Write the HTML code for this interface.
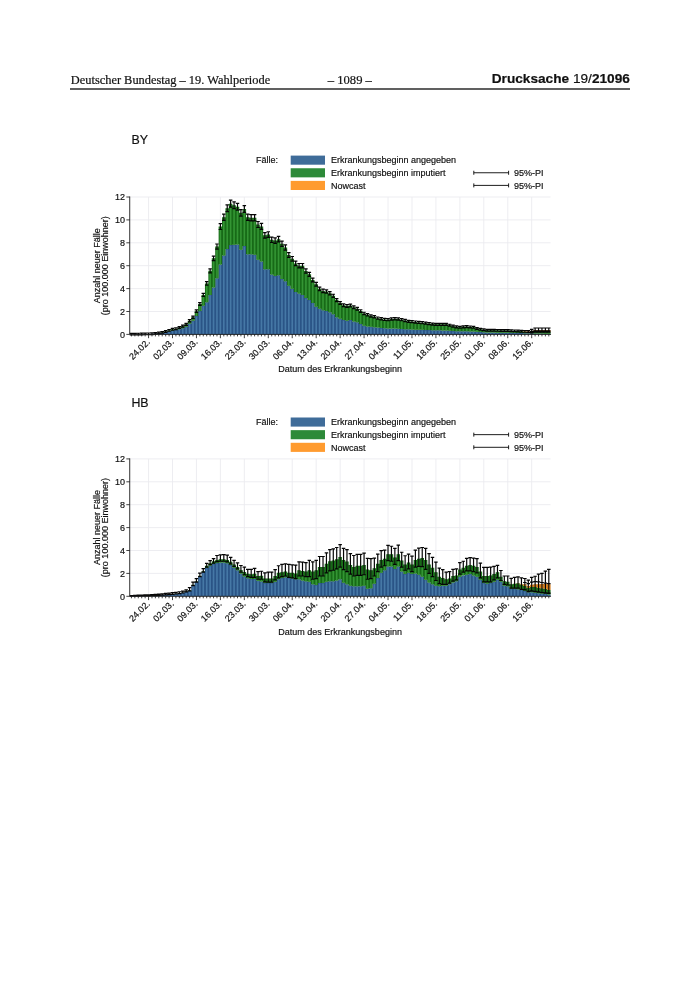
<!DOCTYPE html>
<html lang="de"><head><meta charset="utf-8"><title>Drucksache 19/21096</title>
<style>
html,body{margin:0;padding:0;background:#fff}
body{width:700px;height:990px;position:relative;overflow:hidden}
.hd{position:absolute;top:71.9px;white-space:nowrap;color:#111;line-height:16px;-webkit-text-stroke:0.2px #111}
.l{left:70.8px;font:12.4px/16px "Liberation Serif","Times New Roman",serif}
.c{left:327.8px;font:12.6px/16px "Liberation Serif","Times New Roman",serif}
.r{right:70.2px;font:13.65px/16px "Liberation Sans",Arial,sans-serif;top:71.4px}
.rule{position:absolute;left:70.4px;width:559.6px;top:88.4px;height:1.2px;background:#606060}
</style></head><body>
<div class="hd l">Deutscher Bundestag – 19. Wahlperiode</div>
<div class="hd c">– 1089 –</div>
<div class="hd r"><b>Drucksache</b> 19/<b>21096</b></div>
<div class="rule"></div>
<svg width="700" height="990" viewBox="0 0 700 990" font-family="'Liberation Sans', Arial, sans-serif" style="position:absolute;left:0;top:0"><style>text{fill:#111;stroke:#111;stroke-width:0.18px}</style><g stroke="#ebebef" stroke-width="0.9" fill="none">
<path d="M148.55 197V334.4"/>
<path d="M172.5 197V334.4"/>
<path d="M196.44 197V334.4"/>
<path d="M220.39 197V334.4"/>
<path d="M244.34 197V334.4"/>
<path d="M268.29 197V334.4"/>
<path d="M292.23 197V334.4"/>
<path d="M316.18 197V334.4"/>
<path d="M340.13 197V334.4"/>
<path d="M364.07 197V334.4"/>
<path d="M388.02 197V334.4"/>
<path d="M411.97 197V334.4"/>
<path d="M435.91 197V334.4"/>
<path d="M459.86 197V334.4"/>
<path d="M483.81 197V334.4"/>
<path d="M507.75 197V334.4"/>
<path d="M531.7 197V334.4"/>
<path d="M129.73 311.5H550.52"/>
<path d="M129.73 288.6H550.52"/>
<path d="M129.73 265.7H550.52"/>
<path d="M129.73 242.8H550.52"/>
<path d="M129.73 219.9H550.52"/>
<path d="M129.73 197H550.52"/>
</g>
<path d="M129.68 334.17h3.52v0.23h-3.52zM133.11 334.13h3.52v0.27h-3.52zM136.53 334.08h3.52v0.32h-3.52zM139.95 334.03h3.52v0.37h-3.52zM143.37 333.99h3.52v0.41h-3.52zM146.79 333.94h3.52v0.46h-3.52zM150.21 333.71h3.52v0.69h-3.52zM153.63 333.48h3.52v0.92h-3.52zM157.05 333.25h3.52v1.15h-3.52zM160.47 332.68h3.52v1.72h-3.52zM163.89 332.11h3.52v2.29h-3.52zM167.32 331.37h3.52v3.03h-3.52zM170.74 330.62h3.52v3.78h-3.52zM174.16 330.05h3.52v4.35h-3.52zM177.58 329.25h3.52v5.15h-3.52zM181 328.33h3.52v6.07h-3.52zM184.42 326.84h3.52v7.56h-3.52zM187.84 323.64h3.52v10.76h-3.52zM191.26 320.77h3.52v13.63h-3.52zM194.68 316.08h3.52v18.32h-3.52zM198.1 310.93h3.52v23.47h-3.52zM201.53 305.77h3.52v28.62h-3.52zM204.95 302.34h3.52v32.06h-3.52zM208.37 294.9h3.52v39.5h-3.52zM211.79 287.45h3.52v46.94h-3.52zM215.21 278.29h3.52v56.11h-3.52zM218.63 264.56h3.52v69.84h-3.52zM222.05 255.39h3.52v79h-3.52zM225.47 249.1h3.52v85.3h-3.52zM228.89 245.09h3.52v89.31h-3.52zM232.31 244.86h3.52v89.54h-3.52zM235.74 244.52h3.52v89.88h-3.52zM239.16 249.67h3.52v84.73h-3.52zM242.58 246.01h3.52v88.39h-3.52zM246 254.25h3.52v80.15h-3.52zM249.42 254.25h3.52v80.15h-3.52zM252.84 254.71h3.52v79.69h-3.52zM256.26 259.63h3.52v74.77h-3.52zM259.68 261.46h3.52v72.94h-3.52zM263.1 269.13h3.52v65.27h-3.52zM266.52 269.13h3.52v65.27h-3.52zM269.95 274.4h3.52v60h-3.52zM273.37 276h3.52v58.39h-3.52zM276.79 275.2h3.52v59.2h-3.52zM280.21 278.98h3.52v55.42h-3.52zM283.63 281.27h3.52v53.13h-3.52zM287.05 285.85h3.52v48.55h-3.52zM290.47 288.83h3.52v45.57h-3.52zM293.89 291.92h3.52v42.48h-3.52zM297.31 293.41h3.52v40.99h-3.52zM300.73 294.9h3.52v39.5h-3.52zM304.16 297.99h3.52v36.41h-3.52zM307.58 300.05h3.52v34.35h-3.52zM311 302.91h3.52v31.49h-3.52zM314.42 306.69h3.52v27.71h-3.52zM317.84 308.64h3.52v25.76h-3.52zM321.26 310.13h3.52v24.27h-3.52zM324.68 311.04h3.52v23.36h-3.52zM328.1 312.19h3.52v22.21h-3.52zM331.52 314.36h3.52v20.04h-3.52zM334.94 317.22h3.52v17.17h-3.52zM338.37 318.71h3.52v15.69h-3.52zM341.79 320.09h3.52v14.31h-3.52zM345.21 320.77h3.52v13.63h-3.52zM348.63 320.09h3.52v14.31h-3.52zM352.05 321.58h3.52v12.82h-3.52zM355.47 322.26h3.52v12.14h-3.52zM358.89 323.98h3.52v10.42h-3.52zM362.31 325.81h3.52v8.59h-3.52zM365.73 326.5h3.52v7.9h-3.52zM369.15 326.84h3.52v7.56h-3.52zM372.58 327.3h3.52v7.1h-3.52zM376 327.53h3.52v6.87h-3.52zM379.42 327.99h3.52v6.41h-3.52zM382.84 328.22h3.52v6.18h-3.52zM386.26 328.45h3.52v5.95h-3.52zM389.68 328.45h3.52v5.95h-3.52zM393.1 328.45h3.52v5.95h-3.52zM396.52 328.67h3.52v5.72h-3.52zM399.94 328.9h3.52v5.5h-3.52zM403.36 329.13h3.52v5.27h-3.52zM406.79 329.36h3.52v5.04h-3.52zM410.21 329.59h3.52v4.81h-3.52zM413.63 329.67h3.52v4.73h-3.52zM417.05 329.74h3.52v4.66h-3.52zM420.47 329.82h3.52v4.58h-3.52zM423.89 329.93h3.52v4.47h-3.52zM427.31 330.05h3.52v4.35h-3.52zM430.73 330.16h3.52v4.24h-3.52zM434.15 330.28h3.52v4.12h-3.52zM437.57 330.35h3.52v4.05h-3.52zM441 330.43h3.52v3.97h-3.52zM444.42 330.51h3.52v3.89h-3.52zM447.84 330.74h3.52v3.66h-3.52zM451.26 330.96h3.52v3.43h-3.52zM454.68 331.14h3.52v3.26h-3.52zM458.1 331.31h3.52v3.09h-3.52zM461.52 331.31h3.52v3.09h-3.52zM464.94 331.31h3.52v3.09h-3.52zM468.36 331.42h3.52v2.98h-3.52zM471.78 331.54h3.52v2.86h-3.52zM475.21 331.82h3.52v2.58h-3.52zM478.63 332.11h3.52v2.29h-3.52zM482.05 332.34h3.52v2.06h-3.52zM485.47 332.45h3.52v1.95h-3.52zM488.89 332.57h3.52v1.83h-3.52zM492.31 332.61h3.52v1.79h-3.52zM495.73 332.66h3.52v1.74h-3.52zM499.15 332.71h3.52v1.69h-3.52zM502.57 332.75h3.52v1.65h-3.52zM505.99 332.8h3.52v1.6h-3.52zM509.42 332.85h3.52v1.55h-3.52zM512.84 332.91h3.52v1.49h-3.52zM516.26 332.97h3.52v1.43h-3.52zM519.68 333.03h3.52v1.37h-3.52zM523.1 333.14h3.52v1.26h-3.52zM526.52 333.25h3.52v1.15h-3.52zM529.94 333.25h3.52v1.15h-3.52zM533.36 333.48h3.52v0.92h-3.52zM536.78 333.54h3.52v0.86h-3.52zM540.2 333.6h3.52v0.8h-3.52zM543.63 333.66h3.52v0.74h-3.52zM547.05 333.71h3.52v0.69h-3.52z" fill="#2a5486"/>
<path d="M154.58 333.93h1.62v0.47h-1.62zM158 333.7h1.62v0.7h-1.62zM161.42 333.13h1.62v1.27h-1.62zM164.84 332.56h1.62v1.84h-1.62zM168.27 331.82h1.62v2.58h-1.62zM171.69 331.07h1.62v3.33h-1.62zM175.11 330.5h1.62v3.9h-1.62zM178.53 329.7h1.62v4.7h-1.62zM181.95 328.78h1.62v5.62h-1.62zM185.37 327.29h1.62v7.11h-1.62zM188.79 324.09h1.62v10.31h-1.62zM192.21 321.22h1.62v13.18h-1.62zM195.63 316.53h1.62v17.87h-1.62zM199.05 311.38h1.62v23.02h-1.62zM202.48 306.22h1.62v28.18h-1.62zM205.9 302.79h1.62v31.61h-1.62zM209.32 295.35h1.62v39.05h-1.62zM212.74 287.9h1.62v46.49h-1.62zM216.16 278.74h1.62v55.66h-1.62zM219.58 265h1.62v69.39h-1.62zM223 255.84h1.62v78.55h-1.62zM226.42 249.55h1.62v84.85h-1.62zM229.84 245.54h1.62v88.86h-1.62zM233.26 245.31h1.62v89.09h-1.62zM236.69 244.97h1.62v89.43h-1.62zM240.11 250.12h1.62v84.28h-1.62zM243.53 246.46h1.62v87.94h-1.62zM246.95 254.7h1.62v79.7h-1.62zM250.37 254.7h1.62v79.7h-1.62zM253.79 255.16h1.62v79.24h-1.62zM257.21 260.08h1.62v74.32h-1.62zM260.63 261.91h1.62v72.49h-1.62zM264.05 269.58h1.62v64.81h-1.62zM267.47 269.58h1.62v64.81h-1.62zM270.9 274.85h1.62v59.55h-1.62zM274.32 276.45h1.62v57.94h-1.62zM277.74 275.65h1.62v58.75h-1.62zM281.16 279.43h1.62v54.97h-1.62zM284.58 281.72h1.62v52.68h-1.62zM288 286.3h1.62v48.1h-1.62zM291.42 289.28h1.62v45.12h-1.62zM294.84 292.37h1.62v42.03h-1.62zM298.26 293.86h1.62v40.54h-1.62zM301.68 295.35h1.62v39.05h-1.62zM305.11 298.44h1.62v35.96h-1.62zM308.53 300.5h1.62v33.9h-1.62zM311.95 303.36h1.62v31.04h-1.62zM315.37 307.14h1.62v27.26h-1.62zM318.79 309.09h1.62v25.31h-1.62zM322.21 310.58h1.62v23.82h-1.62zM325.63 311.49h1.62v22.91h-1.62zM329.05 312.64h1.62v21.76h-1.62zM332.47 314.81h1.62v19.59h-1.62zM335.89 317.67h1.62v16.72h-1.62zM339.32 319.16h1.62v15.24h-1.62zM342.74 320.54h1.62v13.86h-1.62zM346.16 321.22h1.62v13.18h-1.62zM349.58 320.54h1.62v13.86h-1.62zM353 322.03h1.62v12.37h-1.62zM356.42 322.71h1.62v11.69h-1.62zM359.84 324.43h1.62v9.97h-1.62zM363.26 326.26h1.62v8.14h-1.62zM366.68 326.95h1.62v7.45h-1.62zM370.1 327.29h1.62v7.11h-1.62zM373.53 327.75h1.62v6.65h-1.62zM376.95 327.98h1.62v6.42h-1.62zM380.37 328.44h1.62v5.96h-1.62zM383.79 328.67h1.62v5.73h-1.62zM387.21 328.9h1.62v5.5h-1.62zM390.63 328.9h1.62v5.5h-1.62zM394.05 328.9h1.62v5.5h-1.62zM397.47 329.12h1.62v5.27h-1.62zM400.89 329.35h1.62v5.05h-1.62zM404.31 329.58h1.62v4.82h-1.62zM407.74 329.81h1.62v4.59h-1.62zM411.16 330.04h1.62v4.36h-1.62zM414.58 330.12h1.62v4.28h-1.62zM418 330.19h1.62v4.21h-1.62zM421.42 330.27h1.62v4.13h-1.62zM424.84 330.38h1.62v4.02h-1.62zM428.26 330.5h1.62v3.9h-1.62zM431.68 330.61h1.62v3.79h-1.62zM435.1 330.73h1.62v3.67h-1.62zM438.52 330.8h1.62v3.6h-1.62zM441.95 330.88h1.62v3.52h-1.62zM445.37 330.96h1.62v3.44h-1.62zM448.79 331.19h1.62v3.21h-1.62zM452.21 331.41h1.62v2.98h-1.62zM455.63 331.59h1.62v2.81h-1.62zM459.05 331.76h1.62v2.64h-1.62zM462.47 331.76h1.62v2.64h-1.62zM465.89 331.76h1.62v2.64h-1.62zM469.31 331.87h1.62v2.53h-1.62zM472.73 331.99h1.62v2.41h-1.62zM476.16 332.27h1.62v2.13h-1.62zM479.58 332.56h1.62v1.84h-1.62zM483 332.79h1.62v1.61h-1.62zM486.42 332.9h1.62v1.5h-1.62zM489.84 333.02h1.62v1.38h-1.62zM493.26 333.06h1.62v1.34h-1.62zM496.68 333.11h1.62v1.29h-1.62zM500.1 333.16h1.62v1.24h-1.62zM503.52 333.2h1.62v1.2h-1.62zM506.94 333.25h1.62v1.15h-1.62zM510.37 333.3h1.62v1.1h-1.62zM513.79 333.36h1.62v1.04h-1.62zM517.21 333.42h1.62v0.98h-1.62zM520.63 333.48h1.62v0.92h-1.62zM524.05 333.59h1.62v0.81h-1.62zM527.47 333.7h1.62v0.7h-1.62zM530.89 333.7h1.62v0.7h-1.62zM534.31 333.93h1.62v0.47h-1.62z" fill="#4678a6"/>
<path d="M157.05 333.03h3.52v0.23h-3.52zM160.47 332.34h3.52v0.34h-3.52zM163.89 331.42h3.52v0.69h-3.52zM167.32 330.39h3.52v0.97h-3.52zM170.74 329.36h3.52v1.26h-3.52zM174.16 328.67h3.52v1.37h-3.52zM177.58 327.53h3.52v1.72h-3.52zM181 326.16h3.52v2.18h-3.52zM184.42 324.32h3.52v2.52h-3.52zM187.84 320.77h3.52v2.86h-3.52zM191.26 317.22h3.52v3.55h-3.52zM194.68 311.16h3.52v4.92h-3.52zM198.1 304.06h3.52v6.87h-3.52zM201.53 294.9h3.52v10.88h-3.52zM204.95 283.45h3.52v18.89h-3.52zM208.37 270.85h3.52v24.04h-3.52zM211.79 258.37h3.52v29.08h-3.52zM215.21 246.58h3.52v31.72h-3.52zM218.63 226.54h3.52v38.01h-3.52zM222.05 217.27h3.52v38.13h-3.52zM225.47 208.22h3.52v40.88h-3.52zM228.89 203.64h3.52v41.45h-3.52zM232.31 205.24h3.52v39.62h-3.52zM235.74 206.73h3.52v37.79h-3.52zM239.16 212.8h3.52v36.87h-3.52zM242.58 209.02h3.52v36.98h-3.52zM246 217.27h3.52v36.98h-3.52zM249.42 217.84h3.52v36.41h-3.52zM252.84 217.84h3.52v36.87h-3.52zM256.26 224.48h3.52v35.15h-3.52zM259.68 226.43h3.52v35.04h-3.52zM263.1 235.36h3.52v33.78h-3.52zM266.52 234.56h3.52v34.58h-3.52zM269.95 239.82h3.52v34.58h-3.52zM273.37 240.62h3.52v35.38h-3.52zM276.79 239.14h3.52v36.07h-3.52zM280.21 243.72h3.52v35.27h-3.52zM283.63 247.49h3.52v33.78h-3.52zM287.05 255.05h3.52v30.8h-3.52zM290.47 258.83h3.52v30h-3.52zM293.89 263.41h3.52v28.51h-3.52zM297.31 265.7h3.52v27.71h-3.52zM300.73 265.7h3.52v29.2h-3.52zM304.16 270.97h3.52v27.02h-3.52zM307.58 274.29h3.52v25.76h-3.52zM311 280.01h3.52v22.9h-3.52zM314.42 284.25h3.52v22.44h-3.52zM317.84 288.83h3.52v19.81h-3.52zM321.26 290.89h3.52v19.24h-3.52zM324.68 291.46h3.52v19.58h-3.52zM328.1 293.18h3.52v19.01h-3.52zM331.52 295.81h3.52v18.55h-3.52zM334.94 300.05h3.52v17.17h-3.52zM338.37 303.03h3.52v15.69h-3.52zM341.79 305.2h3.52v14.88h-3.52zM345.21 306h3.52v14.77h-3.52zM348.63 305.43h3.52v14.66h-3.52zM352.05 307.26h3.52v14.31h-3.52zM355.47 308.75h3.52v13.51h-3.52zM358.89 311.04h3.52v12.94h-3.52zM362.31 313.45h3.52v12.37h-3.52zM365.73 314.82h3.52v11.68h-3.52zM369.15 315.97h3.52v10.88h-3.52zM372.58 316.77h3.52v10.53h-3.52zM376 318.14h3.52v9.39h-3.52zM379.42 318.71h3.52v9.27h-3.52zM382.84 319.4h3.52v8.82h-3.52zM386.26 319.63h3.52v8.82h-3.52zM389.68 319.06h3.52v9.39h-3.52zM393.1 318.71h3.52v9.73h-3.52zM396.52 319.06h3.52v9.62h-3.52zM399.94 319.63h3.52v9.27h-3.52zM403.36 320.55h3.52v8.59h-3.52zM406.79 321.35h3.52v8.01h-3.52zM410.21 321.58h3.52v8.02h-3.52zM413.63 322.03h3.52v7.63h-3.52zM417.05 322.38h3.52v7.37h-3.52zM420.47 322.72h3.52v7.1h-3.52zM423.89 323.18h3.52v6.76h-3.52zM427.31 323.52h3.52v6.53h-3.52zM430.73 324.09h3.52v6.07h-3.52zM434.15 324.32h3.52v5.95h-3.52zM437.57 324.32h3.52v6.03h-3.52zM441 324.32h3.52v6.11h-3.52zM444.42 324.32h3.52v6.18h-3.52zM447.84 325.24h3.52v5.5h-3.52zM451.26 326.16h3.52v4.81h-3.52zM454.68 326.84h3.52v4.29h-3.52zM458.1 327.3h3.52v4.01h-3.52zM461.52 326.84h3.52v4.47h-3.52zM464.94 326.61h3.52v4.69h-3.52zM468.36 326.96h3.52v4.47h-3.52zM471.78 327.3h3.52v4.24h-3.52zM475.21 328.45h3.52v3.38h-3.52zM478.63 329.36h3.52v2.75h-3.52zM482.05 329.82h3.52v2.52h-3.52zM485.47 330.16h3.52v2.29h-3.52zM488.89 330.28h3.52v2.29h-3.52zM492.31 330.32h3.52v2.29h-3.52zM495.73 330.37h3.52v2.29h-3.52zM499.15 330.42h3.52v2.29h-3.52zM502.57 330.46h3.52v2.29h-3.52zM505.99 330.51h3.52v2.29h-3.52zM509.42 330.68h3.52v2.18h-3.52zM512.84 330.85h3.52v2.06h-3.52zM516.26 331.02h3.52v1.95h-3.52zM519.68 331.19h3.52v1.83h-3.52zM523.1 331.71h3.52v1.43h-3.52zM526.52 332.22h3.52v1.03h-3.52zM529.94 332h3.52v1.26h-3.52zM533.36 331.65h3.52v1.83h-3.52zM536.78 331.65h3.52v1.89h-3.52zM540.2 331.65h3.52v1.95h-3.52zM543.63 331.65h3.52v2h-3.52zM547.05 331.65h3.52v2.06h-3.52z" fill="#176a17"/>
<path d="M168.27 330.84h1.62v0.52h-1.62zM171.69 329.81h1.62v0.81h-1.62zM175.11 329.12h1.62v0.92h-1.62zM178.53 327.98h1.62v1.27h-1.62zM181.95 326.61h1.62v1.73h-1.62zM185.37 324.77h1.62v2.07h-1.62zM188.79 321.22h1.62v2.41h-1.62zM192.21 317.67h1.62v3.1h-1.62zM195.63 311.61h1.62v4.47h-1.62zM199.05 304.51h1.62v6.42h-1.62zM202.48 295.35h1.62v10.43h-1.62zM205.9 283.9h1.62v18.44h-1.62zM209.32 271.3h1.62v23.59h-1.62zM212.74 258.82h1.62v28.63h-1.62zM216.16 247.03h1.62v31.27h-1.62zM219.58 226.99h1.62v37.56h-1.62zM223 217.72h1.62v37.68h-1.62zM226.42 208.67h1.62v40.43h-1.62zM229.84 204.09h1.62v41h-1.62zM233.26 205.69h1.62v39.17h-1.62zM236.69 207.18h1.62v37.34h-1.62zM240.11 213.25h1.62v36.42h-1.62zM243.53 209.47h1.62v36.53h-1.62zM246.95 217.72h1.62v36.53h-1.62zM250.37 218.29h1.62v35.96h-1.62zM253.79 218.29h1.62v36.42h-1.62zM257.21 224.93h1.62v34.7h-1.62zM260.63 226.88h1.62v34.59h-1.62zM264.05 235.81h1.62v33.33h-1.62zM267.47 235.01h1.62v34.13h-1.62zM270.9 240.27h1.62v34.13h-1.62zM274.32 241.07h1.62v34.93h-1.62zM277.74 239.59h1.62v35.62h-1.62zM281.16 244.17h1.62v34.82h-1.62zM284.58 247.94h1.62v33.33h-1.62zM288 255.5h1.62v30.35h-1.62zM291.42 259.28h1.62v29.55h-1.62zM294.84 263.86h1.62v28.06h-1.62zM298.26 266.15h1.62v27.26h-1.62zM301.68 266.15h1.62v28.75h-1.62zM305.11 271.42h1.62v26.57h-1.62zM308.53 274.74h1.62v25.31h-1.62zM311.95 280.46h1.62v22.45h-1.62zM315.37 284.7h1.62v21.99h-1.62zM318.79 289.28h1.62v19.36h-1.62zM322.21 291.34h1.62v18.79h-1.62zM325.63 291.91h1.62v19.13h-1.62zM329.05 293.63h1.62v18.56h-1.62zM332.47 296.26h1.62v18.1h-1.62zM335.89 300.5h1.62v16.72h-1.62zM339.32 303.48h1.62v15.24h-1.62zM342.74 305.65h1.62v14.43h-1.62zM346.16 306.45h1.62v14.32h-1.62zM349.58 305.88h1.62v14.21h-1.62zM353 307.71h1.62v13.86h-1.62zM356.42 309.2h1.62v13.06h-1.62zM359.84 311.49h1.62v12.49h-1.62zM363.26 313.9h1.62v11.92h-1.62zM366.68 315.27h1.62v11.23h-1.62zM370.1 316.42h1.62v10.43h-1.62zM373.53 317.22h1.62v10.08h-1.62zM376.95 318.59h1.62v8.94h-1.62zM380.37 319.16h1.62v8.82h-1.62zM383.79 319.85h1.62v8.37h-1.62zM387.21 320.08h1.62v8.37h-1.62zM390.63 319.51h1.62v8.94h-1.62zM394.05 319.16h1.62v9.28h-1.62zM397.47 319.51h1.62v9.17h-1.62zM400.89 320.08h1.62v8.82h-1.62zM404.31 321h1.62v8.14h-1.62zM407.74 321.8h1.62v7.56h-1.62zM411.16 322.03h1.62v7.57h-1.62zM414.58 322.48h1.62v7.18h-1.62zM418 322.83h1.62v6.92h-1.62zM421.42 323.17h1.62v6.65h-1.62zM424.84 323.63h1.62v6.31h-1.62zM428.26 323.97h1.62v6.08h-1.62zM431.68 324.54h1.62v5.62h-1.62zM435.1 324.77h1.62v5.5h-1.62zM438.52 324.77h1.62v5.58h-1.62zM441.95 324.77h1.62v5.66h-1.62zM445.37 324.77h1.62v5.73h-1.62zM448.79 325.69h1.62v5.05h-1.62zM452.21 326.61h1.62v4.36h-1.62zM455.63 327.29h1.62v3.84h-1.62zM459.05 327.75h1.62v3.56h-1.62zM462.47 327.29h1.62v4.02h-1.62zM465.89 327.06h1.62v4.24h-1.62zM469.31 327.41h1.62v4.02h-1.62zM472.73 327.75h1.62v3.79h-1.62zM476.16 328.9h1.62v2.93h-1.62zM479.58 329.81h1.62v2.3h-1.62zM483 330.27h1.62v2.07h-1.62zM486.42 330.61h1.62v1.84h-1.62zM489.84 330.73h1.62v1.84h-1.62zM493.26 330.77h1.62v1.84h-1.62zM496.68 330.82h1.62v1.84h-1.62zM500.1 330.87h1.62v1.84h-1.62zM503.52 330.91h1.62v1.84h-1.62zM506.94 330.96h1.62v1.84h-1.62zM510.37 331.13h1.62v1.73h-1.62zM513.79 331.3h1.62v1.61h-1.62zM517.21 331.47h1.62v1.5h-1.62zM520.63 331.64h1.62v1.38h-1.62zM524.05 332.16h1.62v0.98h-1.62zM527.47 332.67h1.62v0.58h-1.62zM530.89 332.45h1.62v0.81h-1.62zM534.31 332.1h1.62v1.38h-1.62zM537.73 332.1h1.62v1.44h-1.62zM541.15 332.1h1.62v1.5h-1.62zM544.58 332.1h1.62v1.55h-1.62zM548 332.1h1.62v1.61h-1.62z" fill="#349534"/>
<path d="M523.1 331.37h3.52v0.34h-3.52zM526.52 331.54h3.52v0.69h-3.52zM529.94 330.96h3.52v1.03h-3.52zM533.36 330.28h3.52v1.37h-3.52zM536.78 330.28h3.52v1.37h-3.52zM540.2 330.28h3.52v1.37h-3.52zM543.63 330.28h3.52v1.37h-3.52zM547.05 330.28h3.52v1.37h-3.52z" fill="#d27b1e"/>
<path d="M530.89 331.41h1.62v0.58h-1.62zM534.31 330.73h1.62v0.92h-1.62zM537.73 330.73h1.62v0.92h-1.62zM541.15 330.73h1.62v0.92h-1.62zM544.58 330.73h1.62v0.92h-1.62zM548 330.73h1.62v0.92h-1.62z" fill="#ffa436"/>
<path d="M131.45 334.98V333.36M129.7 333.36h3.5M129.7 334.98h3.5M134.87 334.92V333.31M133.12 333.31h3.5M133.12 334.92h3.5M138.29 334.86V333.25M136.54 333.25h3.5M136.54 334.86h3.5M141.71 334.81V333.19M139.96 333.19h3.5M139.96 334.81h3.5M145.13 334.75V333.13M143.38 333.13h3.5M143.38 334.75h3.5M148.55 334.64V333.01M146.8 333.01h3.5M146.8 334.64h3.5M151.97 334.53V332.9M150.22 332.9h3.5M150.22 334.53h3.5M155.39 334.19V332.55M153.64 332.55h3.5M153.64 334.19h3.5M158.81 333.85V332.2M157.06 332.2h3.5M157.06 333.85h3.5M162.23 333.18V331.5M160.48 331.5h3.5M160.48 333.18h3.5M165.66 332.28V330.56M163.91 330.56h3.5M163.91 332.28h3.5M169.08 331.27V329.51M167.33 329.51h3.5M167.33 331.27h3.5M172.5 330.26V328.46M170.75 328.46h3.5M170.75 330.26h3.5M175.92 329.59V327.76M174.17 327.76h3.5M174.17 329.59h3.5M179.34 328.47V326.59M177.59 326.59h3.5M177.59 328.47h3.5M182.76 327.12V325.19M181.01 325.19h3.5M181.01 327.12h3.5M186.18 325.33V323.32M184.43 323.32h3.5M184.43 325.33h3.5M189.6 321.85V319.7M187.85 319.7h3.5M187.85 321.85h3.5M193.02 318.37V316.08M191.27 316.08h3.5M191.27 318.37h3.5M196.44 312.42V309.89M194.69 309.89h3.5M194.69 312.42h3.5M199.87 305.47V302.65M198.12 302.65h3.5M198.12 305.47h3.5M203.29 296.49V293.31M201.54 293.31h3.5M201.54 296.49h3.5M206.71 285.27V281.63M204.96 281.63h3.5M204.96 285.27h3.5M210.13 272.92V268.78M208.38 268.78h3.5M208.38 272.92h3.5M213.55 260.69V256.05M211.8 256.05h3.5M211.8 260.69h3.5M216.97 249.14V244.02M215.22 244.02h3.5M215.22 249.14h3.5M220.39 229.5V223.58M218.64 223.58h3.5M218.64 229.5h3.5M223.81 220.41V214.12M222.06 214.12h3.5M222.06 220.41h3.5M227.23 211.55V204.9M225.48 204.9h3.5M225.48 211.55h3.5M230.65 207.06V200.22M228.9 200.22h3.5M228.9 207.06h3.5M234.07 208.63V201.86M232.32 201.86h3.5M232.32 208.63h3.5M237.5 210.09V203.38M235.75 203.38h3.5M235.75 210.09h3.5M240.92 216.03V209.57M239.17 209.57h3.5M239.17 216.03h3.5M244.34 212.33V205.71M242.59 205.71h3.5M242.59 212.33h3.5M247.76 220.41V214.12M246.01 214.12h3.5M246.01 220.41h3.5M251.18 220.97V214.71M249.43 214.71h3.5M249.43 220.97h3.5M254.6 220.97V214.71M252.85 214.71h3.5M252.85 220.97h3.5M258.02 227.48V221.48M256.27 221.48h3.5M256.27 227.48h3.5M261.44 229.39V223.47M259.69 223.47h3.5M259.69 229.39h3.5M264.86 238.14V232.58M263.11 232.58h3.5M263.11 238.14h3.5M268.29 237.35V231.76M266.54 231.76h3.5M266.54 237.35h3.5M271.71 242.52V237.13M269.96 237.13h3.5M269.96 242.52h3.5M275.13 243.3V237.95M273.38 237.95h3.5M273.38 243.3h3.5M278.55 241.84V236.43M276.8 236.43h3.5M276.8 241.84h3.5M281.97 246.33V241.1M280.22 241.1h3.5M280.22 246.33h3.5M285.39 250.03V244.95M283.64 244.95h3.5M283.64 250.03h3.5M288.81 257.44V252.66M287.06 252.66h3.5M287.06 257.44h3.5M292.23 261.14V256.52M290.48 256.52h3.5M290.48 261.14h3.5M295.65 265.63V261.19M293.9 261.19h3.5M293.9 265.63h3.5M299.07 267.88V263.52M297.32 263.52h3.5M297.32 267.88h3.5M302.5 267.88V263.52M300.75 263.52h3.5M300.75 267.88h3.5M305.92 273.04V268.9M304.17 268.9h3.5M304.17 273.04h3.5M309.34 276.29V272.28M307.59 272.28h3.5M307.59 276.29h3.5M312.76 281.9V278.12M311.01 278.12h3.5M311.01 281.9h3.5M316.18 286.05V282.44M314.43 282.44h3.5M314.43 286.05h3.5M319.6 290.54V287.12M317.85 287.12h3.5M317.85 290.54h3.5M323.02 292.56V289.22M321.27 289.22h3.5M321.27 292.56h3.5M326.44 293.12V289.8M324.69 289.8h3.5M324.69 293.12h3.5M329.86 294.81V291.55M328.11 291.55h3.5M328.11 294.81h3.5M333.28 297.39V294.24M331.53 294.24h3.5M331.53 297.39h3.5M336.71 301.54V298.56M334.96 298.56h3.5M334.96 301.54h3.5M340.13 304.46V301.6M338.38 301.6h3.5M338.38 304.46h3.5M343.55 306.59V303.82M341.8 303.82h3.5M341.8 306.59h3.5M346.97 307.37V304.63M345.22 304.63h3.5M345.22 307.37h3.5M350.39 306.81V304.05M348.64 304.05h3.5M348.64 306.81h3.5M353.81 308.61V305.92M352.06 305.92h3.5M352.06 308.61h3.5M357.23 310.07V307.44M355.48 307.44h3.5M355.48 310.07h3.5M360.65 312.31V309.77M358.9 309.77h3.5M358.9 312.31h3.5M364.07 314.67V312.23M362.32 312.23h3.5M362.32 314.67h3.5M367.49 316.01V313.63M365.74 313.63h3.5M365.74 316.01h3.5M370.91 317.14V314.8M369.16 314.8h3.5M369.16 317.14h3.5M374.34 317.92V315.61M372.59 315.61h3.5M372.59 317.92h3.5M377.76 319.27V317.01M376.01 317.01h3.5M376.01 319.27h3.5M381.18 319.83V317.6M379.43 317.6h3.5M379.43 319.83h3.5M384.6 320.5V318.3M382.85 318.3h3.5M382.85 320.5h3.5M388.02 320.73V318.53M386.27 318.53h3.5M386.27 320.73h3.5M391.44 320.17V317.95M389.69 317.95h3.5M389.69 320.17h3.5M394.86 319.83V317.6M393.11 317.6h3.5M393.11 319.83h3.5M398.28 320.17V317.95M396.53 317.95h3.5M396.53 320.17h3.5M401.7 320.73V318.53M399.95 318.53h3.5M399.95 320.73h3.5M405.12 321.62V319.47M403.38 319.47h3.5M403.38 321.62h3.5M408.55 322.41V320.28M406.8 320.28h3.5M406.8 322.41h3.5M411.97 322.63V320.52M410.22 320.52h3.5M410.22 322.63h3.5M415.39 323.08V320.99M413.64 320.99h3.5M413.64 323.08h3.5M418.81 323.42V321.34M417.06 321.34h3.5M417.06 323.42h3.5M422.23 323.76V321.69M420.48 321.69h3.5M420.48 323.76h3.5M425.65 324.2V322.15M423.9 322.15h3.5M423.9 324.2h3.5M429.07 324.54V322.5M427.32 322.5h3.5M427.32 324.54h3.5M432.49 325.1V323.09M430.74 323.09h3.5M430.74 325.1h3.5M435.91 325.33V323.32M434.16 323.32h3.5M434.16 325.33h3.5M439.33 325.33V323.32M437.58 323.32h3.5M437.58 325.33h3.5M442.76 325.33V323.32M441.01 323.32h3.5M441.01 325.33h3.5M446.18 325.33V323.32M444.43 323.32h3.5M444.43 325.33h3.5M449.6 326.22V324.26M447.85 324.26h3.5M447.85 326.22h3.5M453.02 327.12V325.19M451.27 325.19h3.5M451.27 327.12h3.5M456.44 327.8V325.89M454.69 325.89h3.5M454.69 327.8h3.5M459.86 328.24V326.36M458.11 326.36h3.5M458.11 328.24h3.5M463.28 327.8V325.89M461.53 325.89h3.5M461.53 327.8h3.5M466.7 327.57V325.66M464.95 325.66h3.5M464.95 327.57h3.5M470.12 327.91V326.01M468.37 326.01h3.5M468.37 327.91h3.5M473.55 328.24V326.36M471.8 326.36h3.5M471.8 328.24h3.5M476.97 329.37V327.53M475.22 327.53h3.5M475.22 329.37h3.5M480.39 330.26V328.46M478.64 328.46h3.5M478.64 330.26h3.5M483.81 330.71V328.93M482.06 328.93h3.5M482.06 330.71h3.5M487.23 331.05V329.28M485.48 329.28h3.5M485.48 331.05h3.5M490.65 331.16V329.39M488.9 329.39h3.5M488.9 331.16h3.5M494.07 331.21V329.44M492.32 329.44h3.5M492.32 331.21h3.5M497.49 331.25V329.49M495.74 329.49h3.5M495.74 331.25h3.5M500.91 331.3V329.53M499.16 329.53h3.5M499.16 331.3h3.5M504.33 331.34V329.58M502.58 329.58h3.5M502.58 331.34h3.5M507.75 331.39V329.63M506 329.63h3.5M506 331.39h3.5M511.18 331.55V329.8M509.43 329.8h3.5M509.43 331.55h3.5M514.6 331.72V329.98M512.85 329.98h3.5M512.85 331.72h3.5M518.02 331.89V330.15M516.27 330.15h3.5M516.27 331.89h3.5M521.44 332.06V330.33M519.69 330.33h3.5M519.69 332.06h3.5M524.86 332.23V330.5M523.11 330.5h3.5M523.11 332.23h3.5M528.28 332.4V330.68M526.53 330.68h3.5M526.53 332.4h3.5M531.7 331.54V329.36M529.95 329.36h3.5M529.95 331.54h3.5M535.12 330.85V327.99M533.37 327.99h3.5M533.37 330.85h3.5M538.54 330.85V327.99M536.79 327.99h3.5M536.79 330.85h3.5M541.96 330.85V327.99M540.21 327.99h3.5M540.21 330.85h3.5M545.39 330.85V327.99M543.64 327.99h3.5M543.64 330.85h3.5M548.81 330.85V327.99M547.06 327.99h3.5M547.06 330.85h3.5M531.7 332.8V331.42M529.95 331.42h3.5M529.95 332.8h3.5M535.12 332.11V330.74M533.37 330.74h3.5M533.37 332.11h3.5M538.54 332.11V330.74M536.79 330.74h3.5M536.79 332.11h3.5M541.96 332.11V330.74M540.21 330.74h3.5M540.21 332.11h3.5M545.39 332.11V330.74M543.64 330.74h3.5M543.64 332.11h3.5M548.81 332.11V330.74M547.06 330.74h3.5M547.06 332.11h3.5" stroke="#050505" stroke-width="1.2" fill="none"/>
<path d="M129.73 196.5V334.4H551.02" stroke="#262626" stroke-width="0.95" fill="none"/>
<path d="M129.73 334.4h-3.4M129.73 311.5h-3.4M129.73 288.6h-3.4M129.73 265.7h-3.4M129.73 242.8h-3.4M129.73 219.9h-3.4M129.73 197h-3.4M131.45 334.4v2.0M134.87 334.4v2.0M138.29 334.4v2.0M141.71 334.4v2.0M145.13 334.4v2.0M148.55 334.4v3.8M151.97 334.4v2.0M155.39 334.4v2.0M158.81 334.4v2.0M162.23 334.4v2.0M165.66 334.4v2.0M169.08 334.4v2.0M172.5 334.4v3.8M175.92 334.4v2.0M179.34 334.4v2.0M182.76 334.4v2.0M186.18 334.4v2.0M189.6 334.4v2.0M193.02 334.4v2.0M196.44 334.4v3.8M199.87 334.4v2.0M203.29 334.4v2.0M206.71 334.4v2.0M210.13 334.4v2.0M213.55 334.4v2.0M216.97 334.4v2.0M220.39 334.4v3.8M223.81 334.4v2.0M227.23 334.4v2.0M230.65 334.4v2.0M234.07 334.4v2.0M237.5 334.4v2.0M240.92 334.4v2.0M244.34 334.4v3.8M247.76 334.4v2.0M251.18 334.4v2.0M254.6 334.4v2.0M258.02 334.4v2.0M261.44 334.4v2.0M264.86 334.4v2.0M268.29 334.4v3.8M271.71 334.4v2.0M275.13 334.4v2.0M278.55 334.4v2.0M281.97 334.4v2.0M285.39 334.4v2.0M288.81 334.4v2.0M292.23 334.4v3.8M295.65 334.4v2.0M299.07 334.4v2.0M302.5 334.4v2.0M305.92 334.4v2.0M309.34 334.4v2.0M312.76 334.4v2.0M316.18 334.4v3.8M319.6 334.4v2.0M323.02 334.4v2.0M326.44 334.4v2.0M329.86 334.4v2.0M333.28 334.4v2.0M336.71 334.4v2.0M340.13 334.4v3.8M343.55 334.4v2.0M346.97 334.4v2.0M350.39 334.4v2.0M353.81 334.4v2.0M357.23 334.4v2.0M360.65 334.4v2.0M364.07 334.4v3.8M367.49 334.4v2.0M370.91 334.4v2.0M374.34 334.4v2.0M377.76 334.4v2.0M381.18 334.4v2.0M384.6 334.4v2.0M388.02 334.4v3.8M391.44 334.4v2.0M394.86 334.4v2.0M398.28 334.4v2.0M401.7 334.4v2.0M405.12 334.4v2.0M408.55 334.4v2.0M411.97 334.4v3.8M415.39 334.4v2.0M418.81 334.4v2.0M422.23 334.4v2.0M425.65 334.4v2.0M429.07 334.4v2.0M432.49 334.4v2.0M435.91 334.4v3.8M439.33 334.4v2.0M442.76 334.4v2.0M446.18 334.4v2.0M449.6 334.4v2.0M453.02 334.4v2.0M456.44 334.4v2.0M459.86 334.4v3.8M463.28 334.4v2.0M466.7 334.4v2.0M470.12 334.4v2.0M473.55 334.4v2.0M476.97 334.4v2.0M480.39 334.4v2.0M483.81 334.4v3.8M487.23 334.4v2.0M490.65 334.4v2.0M494.07 334.4v2.0M497.49 334.4v2.0M500.91 334.4v2.0M504.33 334.4v2.0M507.75 334.4v3.8M511.18 334.4v2.0M514.6 334.4v2.0M518.02 334.4v2.0M521.44 334.4v2.0M524.86 334.4v2.0M528.28 334.4v2.0M531.7 334.4v3.8M535.12 334.4v2.0M538.54 334.4v2.0M541.96 334.4v2.0M545.39 334.4v2.0M548.81 334.4v2.0" stroke="#111" stroke-width="0.8" fill="none"/>
<g font-size="9" text-anchor="end">
<text x="125.13" y="337.6">0</text>
<text x="125.13" y="314.7">2</text>
<text x="125.13" y="291.8">4</text>
<text x="125.13" y="268.9">6</text>
<text x="125.13" y="246">8</text>
<text x="125.13" y="223.1">10</text>
<text x="125.13" y="200.2">12</text>
</g>
<g font-size="9" text-anchor="end">
<text transform="translate(150.45 342.6) rotate(-45)">24.02.</text>
<text transform="translate(174.4 342.6) rotate(-45)">02.03.</text>
<text transform="translate(198.34 342.6) rotate(-45)">09.03.</text>
<text transform="translate(222.29 342.6) rotate(-45)">16.03.</text>
<text transform="translate(246.24 342.6) rotate(-45)">23.03.</text>
<text transform="translate(270.19 342.6) rotate(-45)">30.03.</text>
<text transform="translate(294.13 342.6) rotate(-45)">06.04.</text>
<text transform="translate(318.08 342.6) rotate(-45)">13.04.</text>
<text transform="translate(342.03 342.6) rotate(-45)">20.04.</text>
<text transform="translate(365.97 342.6) rotate(-45)">27.04.</text>
<text transform="translate(389.92 342.6) rotate(-45)">04.05.</text>
<text transform="translate(413.87 342.6) rotate(-45)">11.05.</text>
<text transform="translate(437.81 342.6) rotate(-45)">18.05.</text>
<text transform="translate(461.76 342.6) rotate(-45)">25.05.</text>
<text transform="translate(485.71 342.6) rotate(-45)">01.06.</text>
<text transform="translate(509.65 342.6) rotate(-45)">08.06.</text>
<text transform="translate(533.6 342.6) rotate(-45)">15.06.</text>
</g>
<text x="340.13" y="372.3" font-size="9" text-anchor="middle">Datum des Erkrankungsbeginn</text>
<text transform="translate(99.7 265.7) rotate(-90)" font-size="9" text-anchor="middle">Anzahl neuer Fälle</text>
<text transform="translate(107.8 265.7) rotate(-90)" font-size="9" text-anchor="middle">(pro 100.000 Einwohner)</text>
<text x="131.4" y="144.2" font-size="12.4" fill="#111">BY</text>
<text x="256" y="163.2" font-size="9">Fälle:</text>
<rect x="290.7" y="155.6" width="34.3" height="9.1" fill="#3f6c99"/>
<text x="331" y="163.3" font-size="9">Erkrankungsbeginn angegeben</text>
<rect x="290.7" y="168.25" width="34.3" height="9.1" fill="#2d8a39"/>
<text x="331" y="175.95" font-size="9">Erkrankungsbeginn imputiert</text>
<path d="M473.8 172.75H508.6M473.8 170.75v4M508.6 170.75v4" stroke="#111" stroke-width="0.95" fill="none"/>
<text x="514" y="175.95" font-size="9">95%-PI</text>
<rect x="290.7" y="180.9" width="34.3" height="9.1" fill="#ff9b2f"/>
<text x="331" y="188.6" font-size="9">Nowcast</text>
<path d="M473.8 185.4H508.6M473.8 183.4v4M508.6 183.4v4" stroke="#111" stroke-width="0.95" fill="none"/>
<text x="514" y="188.6" font-size="9">95%-PI</text><g stroke="#ebebef" stroke-width="0.9" fill="none">
<path d="M148.55 458.9V596.3"/>
<path d="M172.5 458.9V596.3"/>
<path d="M196.44 458.9V596.3"/>
<path d="M220.39 458.9V596.3"/>
<path d="M244.34 458.9V596.3"/>
<path d="M268.29 458.9V596.3"/>
<path d="M292.23 458.9V596.3"/>
<path d="M316.18 458.9V596.3"/>
<path d="M340.13 458.9V596.3"/>
<path d="M364.07 458.9V596.3"/>
<path d="M388.02 458.9V596.3"/>
<path d="M411.97 458.9V596.3"/>
<path d="M435.91 458.9V596.3"/>
<path d="M459.86 458.9V596.3"/>
<path d="M483.81 458.9V596.3"/>
<path d="M507.75 458.9V596.3"/>
<path d="M531.7 458.9V596.3"/>
<path d="M129.73 573.4H550.52"/>
<path d="M129.73 550.5H550.52"/>
<path d="M129.73 527.6H550.52"/>
<path d="M129.73 504.7H550.52"/>
<path d="M129.73 481.8H550.52"/>
<path d="M129.73 458.9H550.52"/>
</g>
<path d="M129.68 595.98h3.52v0.32h-3.52zM133.11 595.93h3.52v0.37h-3.52zM136.53 595.88h3.52v0.42h-3.52zM139.95 595.81h3.52v0.49h-3.52zM143.37 595.74h3.52v0.56h-3.52zM146.79 595.67h3.52v0.63h-3.52zM150.21 595.53h3.52v0.77h-3.52zM153.63 595.39h3.52v0.91h-3.52zM157.05 595.25h3.52v1.05h-3.52zM160.47 595.04h3.52v1.26h-3.52zM163.89 594.83h3.52v1.47h-3.52zM167.32 594.56h3.52v1.74h-3.52zM170.74 594.3h3.52v2h-3.52zM174.16 593.98h3.52v2.32h-3.52zM177.58 593.56h3.52v2.74h-3.52zM181 593.03h3.52v3.27h-3.52zM184.42 591.98h3.52v4.32h-3.52zM187.84 591.03h3.52v5.27h-3.52zM191.26 585.26h3.52v11.04h-3.52zM194.68 581.79h3.52v14.51h-3.52zM198.1 576.28h3.52v20.02h-3.52zM201.53 571.91h3.52v24.39h-3.52zM204.95 567.94h3.52v28.36h-3.52zM208.37 565.75h3.52v30.55h-3.52zM211.79 563.96h3.52v32.34h-3.52zM215.21 562.93h3.52v33.37h-3.52zM218.63 562.54h3.52v33.76h-3.52zM222.05 562.54h3.52v33.76h-3.52zM225.47 563.19h3.52v33.11h-3.52zM228.89 565.11h3.52v31.19h-3.52zM232.31 567.68h3.52v28.62h-3.52zM235.74 570.25h3.52v26.05h-3.52zM239.16 573.45h3.52v22.85h-3.52zM242.58 576.41h3.52v19.89h-3.52zM246 578.33h3.52v17.97h-3.52zM249.42 578.97h3.52v17.33h-3.52zM252.84 578.97h3.52v17.33h-3.52zM256.26 580.64h3.52v15.66h-3.52zM259.68 581.54h3.52v14.76h-3.52zM263.1 583.08h3.52v13.22h-3.52zM266.52 583.08h3.52v13.22h-3.52zM269.95 583.08h3.52v13.22h-3.52zM273.37 581.79h3.52v14.51h-3.52zM276.79 579.23h3.52v17.07h-3.52zM280.21 577.94h3.52v18.36h-3.52zM283.63 577.3h3.52v19h-3.52zM287.05 577.94h3.52v18.36h-3.52zM290.47 578.59h3.52v17.71h-3.52zM293.89 579.23h3.52v17.07h-3.52zM297.31 579.23h3.52v17.07h-3.52zM300.73 580.51h3.52v15.79h-3.52zM304.16 581.15h3.52v15.15h-3.52zM307.58 581.79h3.52v14.51h-3.52zM311 584.36h3.52v11.94h-3.52zM314.42 585h3.52v11.3h-3.52zM317.84 583.08h3.52v13.22h-3.52zM321.26 583.08h3.52v13.22h-3.52zM324.68 581.79h3.52v14.51h-3.52zM328.1 581.15h3.52v15.15h-3.52zM331.52 581.15h3.52v15.15h-3.52zM334.94 580.51h3.52v15.79h-3.52zM338.37 579.23h3.52v17.07h-3.52zM341.79 582.69h3.52v13.61h-3.52zM345.21 584.36h3.52v11.94h-3.52zM348.63 585.65h3.52v10.65h-3.52zM352.05 586.29h3.52v10.01h-3.52zM355.47 586.29h3.52v10.01h-3.52zM358.89 586.29h3.52v10.01h-3.52zM362.31 585.65h3.52v10.65h-3.52zM365.73 588.85h3.52v7.45h-3.52zM369.15 588.21h3.52v8.09h-3.52zM372.58 583.72h3.52v12.58h-3.52zM376 577.94h3.52v18.36h-3.52zM379.42 572.81h3.52v23.49h-3.52zM382.84 570.24h3.52v26.06h-3.52zM386.26 566.39h3.52v29.91h-3.52zM389.68 566.39h3.52v29.91h-3.52zM393.1 568.96h3.52v27.34h-3.52zM396.52 566.39h3.52v29.91h-3.52zM399.94 571.53h3.52v24.77h-3.52zM403.36 574.09h3.52v22.21h-3.52zM406.79 572.81h3.52v23.49h-3.52zM410.21 574.09h3.52v22.21h-3.52zM413.63 573.45h3.52v22.85h-3.52zM417.05 574.73h3.52v21.57h-3.52zM420.47 576.66h3.52v19.64h-3.52zM423.89 579.87h3.52v16.43h-3.52zM427.31 582.44h3.52v13.86h-3.52zM430.73 584.36h3.52v11.94h-3.52zM434.15 585.65h3.52v10.65h-3.52zM437.57 586.29h3.52v10.01h-3.52zM441 585.65h3.52v10.65h-3.52zM444.42 585.65h3.52v10.65h-3.52zM447.84 584.36h3.52v11.94h-3.52zM451.26 582.44h3.52v13.86h-3.52zM454.68 581.15h3.52v15.15h-3.52zM458.1 576.66h3.52v19.64h-3.52zM461.52 575.38h3.52v20.92h-3.52zM464.94 574.73h3.52v21.57h-3.52zM468.36 574.09h3.52v22.21h-3.52zM471.78 575.38h3.52v20.92h-3.52zM475.21 576.66h3.52v19.64h-3.52zM478.63 579.87h3.52v16.43h-3.52zM482.05 583.08h3.52v13.22h-3.52zM485.47 583.72h3.52v12.58h-3.52zM488.89 583.08h3.52v13.22h-3.52zM492.31 581.79h3.52v14.51h-3.52zM495.73 579.87h3.52v16.43h-3.52zM499.15 581.79h3.52v14.51h-3.52zM502.57 585.65h3.52v10.65h-3.52zM505.99 586.29h3.52v10.01h-3.52zM509.42 588.77h3.52v7.53h-3.52zM512.84 588.77h3.52v7.53h-3.52zM516.26 589.34h3.52v6.96h-3.52zM519.68 589.91h3.52v6.39h-3.52zM523.1 591.05h3.52v5.25h-3.52zM526.52 592.19h3.52v4.11h-3.52zM529.94 592.19h3.52v4.11h-3.52zM533.36 592.76h3.52v3.54h-3.52zM536.78 593.33h3.52v2.97h-3.52zM540.2 593.56h3.52v2.74h-3.52zM543.63 593.91h3.52v2.39h-3.52zM547.05 594.48h3.52v1.82h-3.52z" fill="#2a5486"/>
<path d="M154.58 595.84h1.62v0.46h-1.62zM158 595.7h1.62v0.6h-1.62zM161.42 595.49h1.62v0.81h-1.62zM164.84 595.28h1.62v1.02h-1.62zM168.27 595.01h1.62v1.29h-1.62zM171.69 594.75h1.62v1.55h-1.62zM175.11 594.43h1.62v1.87h-1.62zM178.53 594.01h1.62v2.29h-1.62zM181.95 593.48h1.62v2.82h-1.62zM185.37 592.43h1.62v3.87h-1.62zM188.79 591.48h1.62v4.82h-1.62zM192.21 585.71h1.62v10.59h-1.62zM195.63 582.24h1.62v14.06h-1.62zM199.05 576.73h1.62v19.57h-1.62zM202.48 572.36h1.62v23.94h-1.62zM205.9 568.39h1.62v27.91h-1.62zM209.32 566.2h1.62v30.1h-1.62zM212.74 564.41h1.62v31.89h-1.62zM216.16 563.38h1.62v32.92h-1.62zM219.58 562.99h1.62v33.31h-1.62zM223 562.99h1.62v33.31h-1.62zM226.42 563.64h1.62v32.66h-1.62zM229.84 565.56h1.62v30.74h-1.62zM233.26 568.13h1.62v28.17h-1.62zM236.69 570.7h1.62v25.6h-1.62zM240.11 573.9h1.62v22.4h-1.62zM243.53 576.86h1.62v19.44h-1.62zM246.95 578.78h1.62v17.52h-1.62zM250.37 579.42h1.62v16.88h-1.62zM253.79 579.42h1.62v16.88h-1.62zM257.21 581.09h1.62v15.21h-1.62zM260.63 581.99h1.62v14.31h-1.62zM264.05 583.53h1.62v12.77h-1.62zM267.47 583.53h1.62v12.77h-1.62zM270.9 583.53h1.62v12.77h-1.62zM274.32 582.24h1.62v14.06h-1.62zM277.74 579.68h1.62v16.62h-1.62zM281.16 578.39h1.62v17.91h-1.62zM284.58 577.75h1.62v18.55h-1.62zM288 578.39h1.62v17.91h-1.62zM291.42 579.04h1.62v17.26h-1.62zM294.84 579.68h1.62v16.62h-1.62zM298.26 579.68h1.62v16.62h-1.62zM301.68 580.96h1.62v15.34h-1.62zM305.11 581.6h1.62v14.7h-1.62zM308.53 582.24h1.62v14.06h-1.62zM311.95 584.81h1.62v11.49h-1.62zM315.37 585.45h1.62v10.85h-1.62zM318.79 583.53h1.62v12.77h-1.62zM322.21 583.53h1.62v12.77h-1.62zM325.63 582.24h1.62v14.06h-1.62zM329.05 581.6h1.62v14.7h-1.62zM332.47 581.6h1.62v14.7h-1.62zM335.89 580.96h1.62v15.34h-1.62zM339.32 579.68h1.62v16.62h-1.62zM342.74 583.14h1.62v13.16h-1.62zM346.16 584.81h1.62v11.49h-1.62zM349.58 586.1h1.62v10.2h-1.62zM353 586.74h1.62v9.56h-1.62zM356.42 586.74h1.62v9.56h-1.62zM359.84 586.74h1.62v9.56h-1.62zM363.26 586.1h1.62v10.2h-1.62zM366.68 589.3h1.62v7h-1.62zM370.1 588.66h1.62v7.64h-1.62zM373.53 584.17h1.62v12.13h-1.62zM376.95 578.39h1.62v17.91h-1.62zM380.37 573.26h1.62v23.04h-1.62zM383.79 570.69h1.62v25.61h-1.62zM387.21 566.84h1.62v29.46h-1.62zM390.63 566.84h1.62v29.46h-1.62zM394.05 569.41h1.62v26.89h-1.62zM397.47 566.84h1.62v29.46h-1.62zM400.89 571.98h1.62v24.32h-1.62zM404.31 574.54h1.62v21.76h-1.62zM407.74 573.26h1.62v23.04h-1.62zM411.16 574.54h1.62v21.76h-1.62zM414.58 573.9h1.62v22.4h-1.62zM418 575.18h1.62v21.12h-1.62zM421.42 577.11h1.62v19.19h-1.62zM424.84 580.32h1.62v15.98h-1.62zM428.26 582.89h1.62v13.41h-1.62zM431.68 584.81h1.62v11.49h-1.62zM435.1 586.1h1.62v10.2h-1.62zM438.52 586.74h1.62v9.56h-1.62zM441.95 586.1h1.62v10.2h-1.62zM445.37 586.1h1.62v10.2h-1.62zM448.79 584.81h1.62v11.49h-1.62zM452.21 582.89h1.62v13.41h-1.62zM455.63 581.6h1.62v14.7h-1.62zM459.05 577.11h1.62v19.19h-1.62zM462.47 575.83h1.62v20.47h-1.62zM465.89 575.18h1.62v21.12h-1.62zM469.31 574.54h1.62v21.76h-1.62zM472.73 575.83h1.62v20.47h-1.62zM476.16 577.11h1.62v19.19h-1.62zM479.58 580.32h1.62v15.98h-1.62zM483 583.53h1.62v12.77h-1.62zM486.42 584.17h1.62v12.13h-1.62zM489.84 583.53h1.62v12.77h-1.62zM493.26 582.24h1.62v14.06h-1.62zM496.68 580.32h1.62v15.98h-1.62zM500.1 582.24h1.62v14.06h-1.62zM503.52 586.1h1.62v10.2h-1.62zM506.94 586.74h1.62v9.56h-1.62zM510.37 589.22h1.62v7.08h-1.62zM513.79 589.22h1.62v7.08h-1.62zM517.21 589.79h1.62v6.51h-1.62zM520.63 590.36h1.62v5.94h-1.62zM524.05 591.5h1.62v4.8h-1.62zM527.47 592.64h1.62v3.66h-1.62zM530.89 592.64h1.62v3.66h-1.62zM534.31 593.21h1.62v3.09h-1.62zM537.73 593.78h1.62v2.52h-1.62zM541.15 594.01h1.62v2.29h-1.62zM544.58 594.36h1.62v1.94h-1.62zM548 594.93h1.62v1.37h-1.62z" fill="#4678a6"/>
<path d="M167.32 594.41h3.52v0.15h-3.52zM170.74 594.12h3.52v0.17h-3.52zM174.16 593.78h3.52v0.2h-3.52zM177.58 593.32h3.52v0.24h-3.52zM181 592.75h3.52v0.28h-3.52zM184.42 591.61h3.52v0.38h-3.52zM187.84 590.57h3.52v0.46h-3.52zM191.26 584.75h3.52v0.51h-3.52zM194.68 581.15h3.52v0.64h-3.52zM198.1 575.76h3.52v0.51h-3.52zM201.53 571.27h3.52v0.64h-3.52zM204.95 565.79h3.52v2.14h-3.52zM208.37 563.35h3.52v2.4h-3.52zM211.79 561.3h3.52v2.66h-3.52zM215.21 560.01h3.52v2.91h-3.52zM218.63 559.37h3.52v3.17h-3.52zM222.05 559.37h3.52v3.17h-3.52zM225.47 560.01h3.52v3.17h-3.52zM228.89 561.81h3.52v3.3h-3.52zM232.31 564.38h3.52v3.3h-3.52zM235.74 566.95h3.52v3.3h-3.52zM239.16 569.9h3.52v3.56h-3.52zM242.58 572.08h3.52v4.33h-3.52zM246 573.75h3.52v4.58h-3.52zM249.42 574.13h3.52v4.84h-3.52zM252.84 573.75h3.52v5.22h-3.52zM256.26 575.93h3.52v4.71h-3.52zM259.68 575.68h3.52v5.87h-3.52zM263.1 578.59h3.52v4.49h-3.52zM266.52 578.59h3.52v4.49h-3.52zM269.95 578.59h3.52v4.49h-3.52zM273.37 576.02h3.52v5.78h-3.52zM276.79 572.81h3.52v6.42h-3.52zM280.21 572.17h3.52v5.78h-3.52zM283.63 571.53h3.52v5.78h-3.52zM287.05 572.81h3.52v5.13h-3.52zM290.47 572.81h3.52v5.78h-3.52zM293.89 573.45h3.52v5.78h-3.52zM297.31 570.24h3.52v8.99h-3.52zM300.73 570.88h3.52v9.63h-3.52zM304.16 571.53h3.52v9.63h-3.52zM307.58 570.24h3.52v11.55h-3.52zM311 571.53h3.52v12.84h-3.52zM314.42 570.24h3.52v14.76h-3.52zM317.84 567.03h3.52v16.05h-3.52zM321.26 567.03h3.52v16.05h-3.52zM324.68 563.82h3.52v17.97h-3.52zM328.1 561.26h3.52v19.9h-3.52zM331.52 560.62h3.52v20.54h-3.52zM334.94 559.33h3.52v21.18h-3.52zM338.37 557.02h3.52v22.21h-3.52zM341.79 559.97h3.52v22.72h-3.52zM345.21 561.51h3.52v22.85h-3.52zM348.63 565.11h3.52v20.54h-3.52zM352.05 567.03h3.52v19.25h-3.52zM355.47 565.75h3.52v20.54h-3.52zM358.89 565.75h3.52v20.54h-3.52zM362.31 565.11h3.52v20.54h-3.52zM365.73 569.6h3.52v19.25h-3.52zM369.15 570.24h3.52v17.97h-3.52zM372.58 568.32h3.52v15.4h-3.52zM376 563.82h3.52v14.12h-3.52zM379.42 559.97h3.52v12.84h-3.52zM382.84 558.69h3.52v11.55h-3.52zM386.26 554.2h3.52v12.19h-3.52zM389.68 554.2h3.52v12.19h-3.52zM393.1 557.41h3.52v11.55h-3.52zM396.52 554.2h3.52v12.19h-3.52zM399.94 560.62h3.52v10.91h-3.52zM403.36 564.47h3.52v9.63h-3.52zM406.79 562.54h3.52v10.27h-3.52zM410.21 564.47h3.52v9.63h-3.52zM413.63 559.97h3.52v13.48h-3.52zM417.05 558.69h3.52v16.05h-3.52zM420.47 558.05h3.52v18.61h-3.52zM423.89 559.97h3.52v19.9h-3.52zM427.31 564.47h3.52v17.97h-3.52zM430.73 567.67h3.52v16.69h-3.52zM434.15 572.17h3.52v13.48h-3.52zM437.57 576.66h3.52v9.63h-3.52zM441 577.94h3.52v7.7h-3.52zM444.42 579.23h3.52v6.42h-3.52zM447.84 578.59h3.52v5.78h-3.52zM451.26 576.02h3.52v6.42h-3.52zM454.68 575.38h3.52v5.78h-3.52zM458.1 569.6h3.52v7.06h-3.52zM461.52 567.67h3.52v7.7h-3.52zM464.94 565.75h3.52v8.99h-3.52zM468.36 565.11h3.52v8.99h-3.52zM471.78 565.75h3.52v9.63h-3.52zM475.21 567.03h3.52v9.63h-3.52zM478.63 571.53h3.52v8.34h-3.52zM482.05 576.02h3.52v7.06h-3.52zM485.47 576.02h3.52v7.7h-3.52zM488.89 575.38h3.52v7.7h-3.52zM492.31 574.09h3.52v7.7h-3.52zM495.73 572.17h3.52v7.7h-3.52zM499.15 576.66h3.52v5.13h-3.52zM502.57 581.15h3.52v4.49h-3.52zM505.99 581.79h3.52v4.49h-3.52zM509.42 584.21h3.52v4.56h-3.52zM512.84 583.64h3.52v5.13h-3.52zM516.26 583.3h3.52v6.04h-3.52zM519.68 584.55h3.52v5.36h-3.52zM523.1 585.92h3.52v5.13h-3.52zM526.52 587.63h3.52v4.56h-3.52zM529.94 587.06h3.52v5.13h-3.52zM533.36 587.06h3.52v5.7h-3.52zM536.78 587.63h3.52v5.7h-3.52zM540.2 588.2h3.52v5.36h-3.52zM543.63 588.77h3.52v5.13h-3.52zM547.05 589.91h3.52v4.56h-3.52z" fill="#176a17"/>
<path d="M205.9 566.24h1.62v1.69h-1.62zM209.32 563.8h1.62v1.95h-1.62zM212.74 561.75h1.62v2.21h-1.62zM216.16 560.46h1.62v2.46h-1.62zM219.58 559.82h1.62v2.72h-1.62zM223 559.82h1.62v2.72h-1.62zM226.42 560.46h1.62v2.72h-1.62zM229.84 562.26h1.62v2.85h-1.62zM233.26 564.83h1.62v2.85h-1.62zM236.69 567.4h1.62v2.85h-1.62zM240.11 570.35h1.62v3.11h-1.62zM243.53 572.53h1.62v3.88h-1.62zM246.95 574.2h1.62v4.13h-1.62zM250.37 574.58h1.62v4.39h-1.62zM253.79 574.2h1.62v4.77h-1.62zM257.21 576.38h1.62v4.26h-1.62zM260.63 576.13h1.62v5.42h-1.62zM264.05 579.04h1.62v4.04h-1.62zM267.47 579.04h1.62v4.04h-1.62zM270.9 579.04h1.62v4.04h-1.62zM274.32 576.47h1.62v5.33h-1.62zM277.74 573.26h1.62v5.97h-1.62zM281.16 572.62h1.62v5.33h-1.62zM284.58 571.98h1.62v5.33h-1.62zM288 573.26h1.62v4.68h-1.62zM291.42 573.26h1.62v5.33h-1.62zM294.84 573.9h1.62v5.33h-1.62zM298.26 570.69h1.62v8.54h-1.62zM301.68 571.33h1.62v9.18h-1.62zM305.11 571.98h1.62v9.18h-1.62zM308.53 570.69h1.62v11.1h-1.62zM311.95 571.98h1.62v12.39h-1.62zM315.37 570.69h1.62v14.31h-1.62zM318.79 567.48h1.62v15.6h-1.62zM322.21 567.48h1.62v15.6h-1.62zM325.63 564.27h1.62v17.52h-1.62zM329.05 561.71h1.62v19.45h-1.62zM332.47 561.07h1.62v20.09h-1.62zM335.89 559.78h1.62v20.73h-1.62zM339.32 557.47h1.62v21.76h-1.62zM342.74 560.42h1.62v22.27h-1.62zM346.16 561.96h1.62v22.4h-1.62zM349.58 565.56h1.62v20.09h-1.62zM353 567.48h1.62v18.8h-1.62zM356.42 566.2h1.62v20.09h-1.62zM359.84 566.2h1.62v20.09h-1.62zM363.26 565.56h1.62v20.09h-1.62zM366.68 570.05h1.62v18.8h-1.62zM370.1 570.69h1.62v17.52h-1.62zM373.53 568.77h1.62v14.95h-1.62zM376.95 564.27h1.62v13.67h-1.62zM380.37 560.42h1.62v12.39h-1.62zM383.79 559.14h1.62v11.1h-1.62zM387.21 554.65h1.62v11.74h-1.62zM390.63 554.65h1.62v11.74h-1.62zM394.05 557.86h1.62v11.1h-1.62zM397.47 554.65h1.62v11.74h-1.62zM400.89 561.07h1.62v10.46h-1.62zM404.31 564.92h1.62v9.18h-1.62zM407.74 562.99h1.62v9.82h-1.62zM411.16 564.92h1.62v9.18h-1.62zM414.58 560.42h1.62v13.03h-1.62zM418 559.14h1.62v15.6h-1.62zM421.42 558.5h1.62v18.16h-1.62zM424.84 560.42h1.62v19.45h-1.62zM428.26 564.92h1.62v17.52h-1.62zM431.68 568.12h1.62v16.24h-1.62zM435.1 572.62h1.62v13.03h-1.62zM438.52 577.11h1.62v9.18h-1.62zM441.95 578.39h1.62v7.25h-1.62zM445.37 579.68h1.62v5.97h-1.62zM448.79 579.04h1.62v5.33h-1.62zM452.21 576.47h1.62v5.97h-1.62zM455.63 575.83h1.62v5.33h-1.62zM459.05 570.05h1.62v6.61h-1.62zM462.47 568.12h1.62v7.25h-1.62zM465.89 566.2h1.62v8.54h-1.62zM469.31 565.56h1.62v8.54h-1.62zM472.73 566.2h1.62v9.18h-1.62zM476.16 567.48h1.62v9.18h-1.62zM479.58 571.98h1.62v7.89h-1.62zM483 576.47h1.62v6.61h-1.62zM486.42 576.47h1.62v7.25h-1.62zM489.84 575.83h1.62v7.25h-1.62zM493.26 574.54h1.62v7.25h-1.62zM496.68 572.62h1.62v7.25h-1.62zM500.1 577.11h1.62v4.68h-1.62zM503.52 581.6h1.62v4.04h-1.62zM506.94 582.24h1.62v4.04h-1.62zM510.37 584.66h1.62v4.11h-1.62zM513.79 584.09h1.62v4.68h-1.62zM517.21 583.75h1.62v5.59h-1.62zM520.63 585h1.62v4.91h-1.62zM524.05 586.37h1.62v4.68h-1.62zM527.47 588.08h1.62v4.11h-1.62zM530.89 587.51h1.62v4.68h-1.62zM534.31 587.51h1.62v5.25h-1.62zM537.73 588.08h1.62v5.25h-1.62zM541.15 588.65h1.62v4.91h-1.62zM544.58 589.22h1.62v4.68h-1.62zM548 590.36h1.62v4.11h-1.62z" fill="#349534"/>
<path d="M516.26 583.07h3.52v0.23h-3.52zM519.68 583.98h3.52v0.57h-3.52zM523.1 584.21h3.52v1.71h-3.52zM526.52 585.92h3.52v1.71h-3.52zM529.94 584.78h3.52v2.28h-3.52zM533.36 584.21h3.52v2.85h-3.52zM536.78 584.21h3.52v3.42h-3.52zM540.2 583.98h3.52v4.22h-3.52zM543.63 583.98h3.52v4.79h-3.52zM547.05 584.21h3.52v5.7h-3.52z" fill="#d27b1e"/>
<path d="M524.05 584.66h1.62v1.26h-1.62zM527.47 586.37h1.62v1.26h-1.62zM530.89 585.23h1.62v1.83h-1.62zM534.31 584.66h1.62v2.4h-1.62zM537.73 584.66h1.62v2.97h-1.62zM541.15 584.43h1.62v3.77h-1.62zM544.58 584.43h1.62v4.34h-1.62zM548 584.66h1.62v5.25h-1.62z" fill="#ffa436"/>
<path d="M131.45 596.19V595.5M129.7 595.5h3.5M129.7 596.19h3.5M134.87 596.13V595.36M133.12 595.36h3.5M133.12 596.13h3.5M138.29 596.07V595.22M136.54 595.22h3.5M136.54 596.07h3.5M141.71 595.99V595.07M139.96 595.07h3.5M139.96 595.99h3.5M145.13 595.92V594.91M143.38 594.91h3.5M143.38 595.92h3.5M148.55 595.84V594.75M146.8 594.75h3.5M146.8 595.84h3.5M151.97 595.69V594.52M150.22 594.52h3.5M150.22 595.69h3.5M155.39 595.54V594.29M153.64 594.29h3.5M153.64 595.54h3.5M158.81 595.38V594.06M157.06 594.06h3.5M157.06 595.38h3.5M162.23 595.15V593.75M160.48 593.75h3.5M160.48 595.15h3.5M165.66 594.93V593.44M163.91 593.44h3.5M163.91 594.93h3.5M169.08 594.64V593.07M167.33 593.07h3.5M167.33 594.64h3.5M172.5 594.35V592.7M170.75 592.7h3.5M170.75 594.35h3.5M175.92 594.01V592.28M174.17 592.28h3.5M174.17 594.01h3.5M179.34 593.55V591.74M177.59 591.74h3.5M177.59 593.55h3.5M182.76 592.98V591.09M181.01 591.09h3.5M181.01 592.98h3.5M186.18 591.83V589.87M184.43 589.87h3.5M184.43 591.83h3.5M189.6 590.8V587.61M187.85 587.61h3.5M187.85 590.8h3.5M193.02 585.65V582.18M191.27 582.18h3.5M191.27 585.65h3.5M196.44 582.18V578.59M194.69 578.59h3.5M194.69 582.18h3.5M199.87 576.66V573.19M198.12 573.19h3.5M198.12 576.66h3.5M203.29 572.17V568.57M201.54 568.57h3.5M201.54 572.17h3.5M206.71 567.03V563.44M204.96 563.44h3.5M204.96 567.03h3.5M210.13 564.72V560.62M208.38 560.62h3.5M208.38 564.72h3.5M213.55 563.18V558.69M211.8 558.69h3.5M211.8 563.18h3.5M216.97 561.64V555.48M215.22 555.48h3.5M215.22 561.64h3.5M220.39 561.26V554.84M218.64 554.84h3.5M218.64 561.26h3.5M223.81 561.26V554.58M222.06 554.58h3.5M222.06 561.26h3.5M227.23 561.9V555.22M225.48 555.22h3.5M225.48 561.9h3.5M230.65 563.82V557.41M228.9 557.41h3.5M228.9 563.82h3.5M234.07 566.39V560.36M232.32 560.36h3.5M232.32 566.39h3.5M237.5 568.96V562.93M235.75 562.93h3.5M235.75 568.96h3.5M240.92 572.17V565.49M239.17 565.49h3.5M239.17 572.17h3.5M244.34 574.73V567.03M242.59 567.03h3.5M242.59 574.73h3.5M247.76 576.66V569.34M246.01 569.34h3.5M246.01 576.66h3.5M251.18 577.3V569.34M249.43 569.34h3.5M249.43 577.3h3.5M254.6 577.3V568.32M252.85 568.32h3.5M252.85 577.3h3.5M258.02 579.23V571.53M256.27 571.53h3.5M256.27 579.23h3.5M261.44 579.23V571.27M259.69 571.27h3.5M259.69 579.23h3.5M264.86 581.79V572.81M263.11 572.81h3.5M263.11 581.79h3.5M268.29 582.18V572.17M266.54 572.17h3.5M266.54 582.18h3.5M271.71 582.18V572.17M269.96 572.17h3.5M269.96 582.18h3.5M275.13 579.87V569.6M273.38 569.6h3.5M273.38 579.87h3.5M278.55 577.94V565.75M276.8 565.75h3.5M276.8 577.94h3.5M281.97 576.66V564.47M280.22 564.47h3.5M280.22 576.66h3.5M285.39 576.02V563.82M283.64 563.82h3.5M283.64 576.02h3.5M288.81 577.3V564.47M287.06 564.47h3.5M287.06 577.3h3.5M292.23 577.94V564.85M290.48 564.85h3.5M290.48 577.94h3.5M295.65 578.59V565.11M293.9 565.11h3.5M293.9 578.59h3.5M299.07 576.02V561.9M297.32 561.9h3.5M297.32 576.02h3.5M302.5 576.02V562.16M300.75 562.16h3.5M300.75 576.02h3.5M305.92 576.66V562.54M304.17 562.54h3.5M304.17 576.66h3.5M309.34 576.66V560.36M307.59 560.36h3.5M307.59 576.66h3.5M312.76 579.23V561.9M311.01 561.9h3.5M311.01 579.23h3.5M316.18 578.59V560.36M314.43 560.36h3.5M314.43 578.59h3.5M319.6 576.02V556.51M317.85 556.51h3.5M317.85 576.02h3.5M323.02 576.02V556.51M321.27 556.51h3.5M321.27 576.02h3.5M326.44 572.81V552.91M324.69 552.91h3.5M324.69 572.81h3.5M329.86 570.88V549.7M328.11 549.7h3.5M328.11 570.88h3.5M333.28 570.24V548.81M331.53 548.81h3.5M331.53 570.24h3.5M336.71 568.96V547.52M334.96 547.52h3.5M334.96 568.96h3.5M340.13 567.03V544.57M338.38 544.57h3.5M338.38 567.03h3.5M343.55 569.6V548.42M341.8 548.42h3.5M341.8 569.6h3.5M346.97 571.53V549.7M345.22 549.7h3.5M345.22 571.53h3.5M350.39 574.09V553.56M348.64 553.56h3.5M348.64 574.09h3.5M353.81 576.02V555.48M352.06 555.48h3.5M352.06 576.02h3.5M357.23 575.38V554.45M355.48 554.45h3.5M355.48 575.38h3.5M360.65 575.38V554.45M358.9 554.45h3.5M358.9 575.38h3.5M364.07 574.73V553.17M362.32 553.17h3.5M362.32 574.73h3.5M367.49 579.23V558.3M365.74 558.3h3.5M365.74 579.23h3.5M370.91 578.59V558.69M369.16 558.69h3.5M369.16 578.59h3.5M374.34 576.02V558.05M372.59 558.05h3.5M372.59 576.02h3.5M377.76 571.53V554.2M376.01 554.2h3.5M376.01 571.53h3.5M381.18 567.03V550.6M379.43 550.6h3.5M379.43 567.03h3.5M384.6 565.75V550.09M382.85 550.09h3.5M382.85 565.75h3.5M388.02 560.62V545.47M386.27 545.47h3.5M386.27 560.62h3.5M391.44 561.26V546.24M389.69 546.24h3.5M389.69 561.26h3.5M394.86 564.47V548.42M393.11 548.42h3.5M393.11 564.47h3.5M398.28 560.62V545.21M396.53 545.21h3.5M396.53 560.62h3.5M401.7 567.03V552.27M399.95 552.27h3.5M399.95 567.03h3.5M405.12 570.24V555.74M403.38 555.74h3.5M403.38 570.24h3.5M408.55 568.96V554.2M406.8 554.2h3.5M406.8 568.96h3.5M411.97 571.53V556.12M410.22 556.12h3.5M410.22 571.53h3.5M415.39 567.03V550.09M413.64 550.09h3.5M413.64 567.03h3.5M418.81 566.39V548.04M417.06 548.04h3.5M417.06 566.39h3.5M422.23 566.65V547.52M420.48 547.52h3.5M420.48 566.65h3.5M425.65 569.34V548.42M423.9 548.42h3.5M423.9 569.34h3.5M429.07 573.45V553.56M427.32 553.56h3.5M427.32 573.45h3.5M432.49 576.66V557.41M430.74 557.41h3.5M430.74 576.66h3.5M435.91 580.51V562.16M434.16 562.16h3.5M434.16 580.51h3.5M439.33 583.72V568.06M437.58 568.06h3.5M437.58 583.72h3.5M442.76 584.36V569.6M441.01 569.6h3.5M441.01 584.36h3.5M446.18 584.36V572.17M444.43 572.17h3.5M444.43 584.36h3.5M449.6 583.08V571.53M447.85 571.53h3.5M447.85 583.08h3.5M453.02 581.15V569.34M451.27 569.34h3.5M451.27 581.15h3.5M456.44 579.87V568.96M454.69 568.96h3.5M454.69 579.87h3.5M459.86 574.09V562.54M458.11 562.54h3.5M458.11 574.09h3.5M463.28 572.17V561.26M461.53 561.26h3.5M461.53 572.17h3.5M466.7 570.88V558.3M464.95 558.3h3.5M464.95 570.88h3.5M470.12 570.88V557.66M468.37 557.66h3.5M468.37 570.88h3.5M473.55 571.53V558.05M471.8 558.05h3.5M471.8 571.53h3.5M476.97 572.81V558.69M475.22 558.69h3.5M475.22 572.81h3.5M480.39 577.94V563.18M478.64 563.18h3.5M478.64 577.94h3.5M483.81 581.79V567.29M482.06 567.29h3.5M482.06 581.79h3.5M487.23 581.79V567.29M485.48 567.29h3.5M485.48 581.79h3.5M490.65 581.79V567.03M488.9 567.03h3.5M488.9 581.79h3.5M494.07 579.87V566.39M492.32 566.39h3.5M492.32 579.87h3.5M497.49 577.94V565.36M495.74 565.36h3.5M495.74 577.94h3.5M500.91 580.51V570.5M499.16 570.5h3.5M499.16 580.51h3.5M504.33 584.36V576.02M502.58 576.02h3.5M502.58 584.36h3.5M507.75 585V576.02M506 576.02h3.5M506 585h3.5M511.18 588.2V578.28M509.43 578.28h3.5M509.43 588.2h3.5M514.6 588.2V577.37M512.85 577.37h3.5M512.85 588.2h3.5M518.02 588.2V576.8M516.27 576.8h3.5M516.27 588.2h3.5M521.44 589.34V577.94M519.69 577.94h3.5M519.69 589.34h3.5M524.86 589.91V578.51M523.11 578.51h3.5M523.11 589.91h3.5M528.28 591.62V580.22M526.53 580.22h3.5M526.53 591.62h3.5M531.7 591.05V577.37M529.95 577.37h3.5M529.95 591.05h3.5M535.12 591.62V576.23M533.37 576.23h3.5M533.37 591.62h3.5M538.54 592.19V574.18M536.79 574.18h3.5M536.79 592.19h3.5M541.96 592.76V573.38M540.21 573.38h3.5M540.21 592.76h3.5M545.39 593.11V571.1M543.64 571.1h3.5M543.64 593.11h3.5M548.81 593.33V569.39M547.06 569.39h3.5M547.06 593.33h3.5M524.86 589.68V582.5M523.11 582.5h3.5M523.11 589.68h3.5M528.28 591.4V583.64M526.53 583.64h3.5M526.53 591.4h3.5M531.7 590.82V582.16M529.95 582.16h3.5M529.95 590.82h3.5M535.12 591.4V581.7M533.37 581.7h3.5M533.37 591.4h3.5M538.54 591.97V581.93M536.79 581.93h3.5M536.79 591.97h3.5M541.96 592.54V582.5M540.21 582.5h3.5M540.21 592.54h3.5M545.39 592.88V583.07M543.64 583.07h3.5M543.64 592.88h3.5M548.81 593.11V583.64M547.06 583.64h3.5M547.06 593.11h3.5" stroke="#050505" stroke-width="1.2" fill="none"/>
<path d="M129.73 458.4V596.3H551.02" stroke="#262626" stroke-width="0.95" fill="none"/>
<path d="M129.73 596.3h-3.4M129.73 573.4h-3.4M129.73 550.5h-3.4M129.73 527.6h-3.4M129.73 504.7h-3.4M129.73 481.8h-3.4M129.73 458.9h-3.4M131.45 596.3v2.0M134.87 596.3v2.0M138.29 596.3v2.0M141.71 596.3v2.0M145.13 596.3v2.0M148.55 596.3v3.8M151.97 596.3v2.0M155.39 596.3v2.0M158.81 596.3v2.0M162.23 596.3v2.0M165.66 596.3v2.0M169.08 596.3v2.0M172.5 596.3v3.8M175.92 596.3v2.0M179.34 596.3v2.0M182.76 596.3v2.0M186.18 596.3v2.0M189.6 596.3v2.0M193.02 596.3v2.0M196.44 596.3v3.8M199.87 596.3v2.0M203.29 596.3v2.0M206.71 596.3v2.0M210.13 596.3v2.0M213.55 596.3v2.0M216.97 596.3v2.0M220.39 596.3v3.8M223.81 596.3v2.0M227.23 596.3v2.0M230.65 596.3v2.0M234.07 596.3v2.0M237.5 596.3v2.0M240.92 596.3v2.0M244.34 596.3v3.8M247.76 596.3v2.0M251.18 596.3v2.0M254.6 596.3v2.0M258.02 596.3v2.0M261.44 596.3v2.0M264.86 596.3v2.0M268.29 596.3v3.8M271.71 596.3v2.0M275.13 596.3v2.0M278.55 596.3v2.0M281.97 596.3v2.0M285.39 596.3v2.0M288.81 596.3v2.0M292.23 596.3v3.8M295.65 596.3v2.0M299.07 596.3v2.0M302.5 596.3v2.0M305.92 596.3v2.0M309.34 596.3v2.0M312.76 596.3v2.0M316.18 596.3v3.8M319.6 596.3v2.0M323.02 596.3v2.0M326.44 596.3v2.0M329.86 596.3v2.0M333.28 596.3v2.0M336.71 596.3v2.0M340.13 596.3v3.8M343.55 596.3v2.0M346.97 596.3v2.0M350.39 596.3v2.0M353.81 596.3v2.0M357.23 596.3v2.0M360.65 596.3v2.0M364.07 596.3v3.8M367.49 596.3v2.0M370.91 596.3v2.0M374.34 596.3v2.0M377.76 596.3v2.0M381.18 596.3v2.0M384.6 596.3v2.0M388.02 596.3v3.8M391.44 596.3v2.0M394.86 596.3v2.0M398.28 596.3v2.0M401.7 596.3v2.0M405.12 596.3v2.0M408.55 596.3v2.0M411.97 596.3v3.8M415.39 596.3v2.0M418.81 596.3v2.0M422.23 596.3v2.0M425.65 596.3v2.0M429.07 596.3v2.0M432.49 596.3v2.0M435.91 596.3v3.8M439.33 596.3v2.0M442.76 596.3v2.0M446.18 596.3v2.0M449.6 596.3v2.0M453.02 596.3v2.0M456.44 596.3v2.0M459.86 596.3v3.8M463.28 596.3v2.0M466.7 596.3v2.0M470.12 596.3v2.0M473.55 596.3v2.0M476.97 596.3v2.0M480.39 596.3v2.0M483.81 596.3v3.8M487.23 596.3v2.0M490.65 596.3v2.0M494.07 596.3v2.0M497.49 596.3v2.0M500.91 596.3v2.0M504.33 596.3v2.0M507.75 596.3v3.8M511.18 596.3v2.0M514.6 596.3v2.0M518.02 596.3v2.0M521.44 596.3v2.0M524.86 596.3v2.0M528.28 596.3v2.0M531.7 596.3v3.8M535.12 596.3v2.0M538.54 596.3v2.0M541.96 596.3v2.0M545.39 596.3v2.0M548.81 596.3v2.0" stroke="#111" stroke-width="0.8" fill="none"/>
<g font-size="9" text-anchor="end">
<text x="125.13" y="599.5">0</text>
<text x="125.13" y="576.6">2</text>
<text x="125.13" y="553.7">4</text>
<text x="125.13" y="530.8">6</text>
<text x="125.13" y="507.9">8</text>
<text x="125.13" y="485">10</text>
<text x="125.13" y="462.1">12</text>
</g>
<g font-size="9" text-anchor="end">
<text transform="translate(150.45 604.5) rotate(-45)">24.02.</text>
<text transform="translate(174.4 604.5) rotate(-45)">02.03.</text>
<text transform="translate(198.34 604.5) rotate(-45)">09.03.</text>
<text transform="translate(222.29 604.5) rotate(-45)">16.03.</text>
<text transform="translate(246.24 604.5) rotate(-45)">23.03.</text>
<text transform="translate(270.19 604.5) rotate(-45)">30.03.</text>
<text transform="translate(294.13 604.5) rotate(-45)">06.04.</text>
<text transform="translate(318.08 604.5) rotate(-45)">13.04.</text>
<text transform="translate(342.03 604.5) rotate(-45)">20.04.</text>
<text transform="translate(365.97 604.5) rotate(-45)">27.04.</text>
<text transform="translate(389.92 604.5) rotate(-45)">04.05.</text>
<text transform="translate(413.87 604.5) rotate(-45)">11.05.</text>
<text transform="translate(437.81 604.5) rotate(-45)">18.05.</text>
<text transform="translate(461.76 604.5) rotate(-45)">25.05.</text>
<text transform="translate(485.71 604.5) rotate(-45)">01.06.</text>
<text transform="translate(509.65 604.5) rotate(-45)">08.06.</text>
<text transform="translate(533.6 604.5) rotate(-45)">15.06.</text>
</g>
<text x="340.13" y="634.6" font-size="9" text-anchor="middle">Datum des Erkrankungsbeginn</text>
<text transform="translate(99.7 527.6) rotate(-90)" font-size="9" text-anchor="middle">Anzahl neuer Fälle</text>
<text transform="translate(107.8 527.6) rotate(-90)" font-size="9" text-anchor="middle">(pro 100.000 Einwohner)</text>
<text x="131.4" y="406.7" font-size="12.4" fill="#111">HB</text>
<text x="256" y="425.1" font-size="9">Fälle:</text>
<rect x="290.7" y="417.5" width="34.3" height="9.1" fill="#3f6c99"/>
<text x="331" y="425.2" font-size="9">Erkrankungsbeginn angegeben</text>
<rect x="290.7" y="430.15" width="34.3" height="9.1" fill="#2d8a39"/>
<text x="331" y="437.85" font-size="9">Erkrankungsbeginn imputiert</text>
<path d="M473.8 434.65H508.6M473.8 432.65v4M508.6 432.65v4" stroke="#111" stroke-width="0.95" fill="none"/>
<text x="514" y="437.85" font-size="9">95%-PI</text>
<rect x="290.7" y="442.8" width="34.3" height="9.1" fill="#ff9b2f"/>
<text x="331" y="450.5" font-size="9">Nowcast</text>
<path d="M473.8 447.3H508.6M473.8 445.3v4M508.6 445.3v4" stroke="#111" stroke-width="0.95" fill="none"/>
<text x="514" y="450.5" font-size="9">95%-PI</text></svg>
</body></html>
